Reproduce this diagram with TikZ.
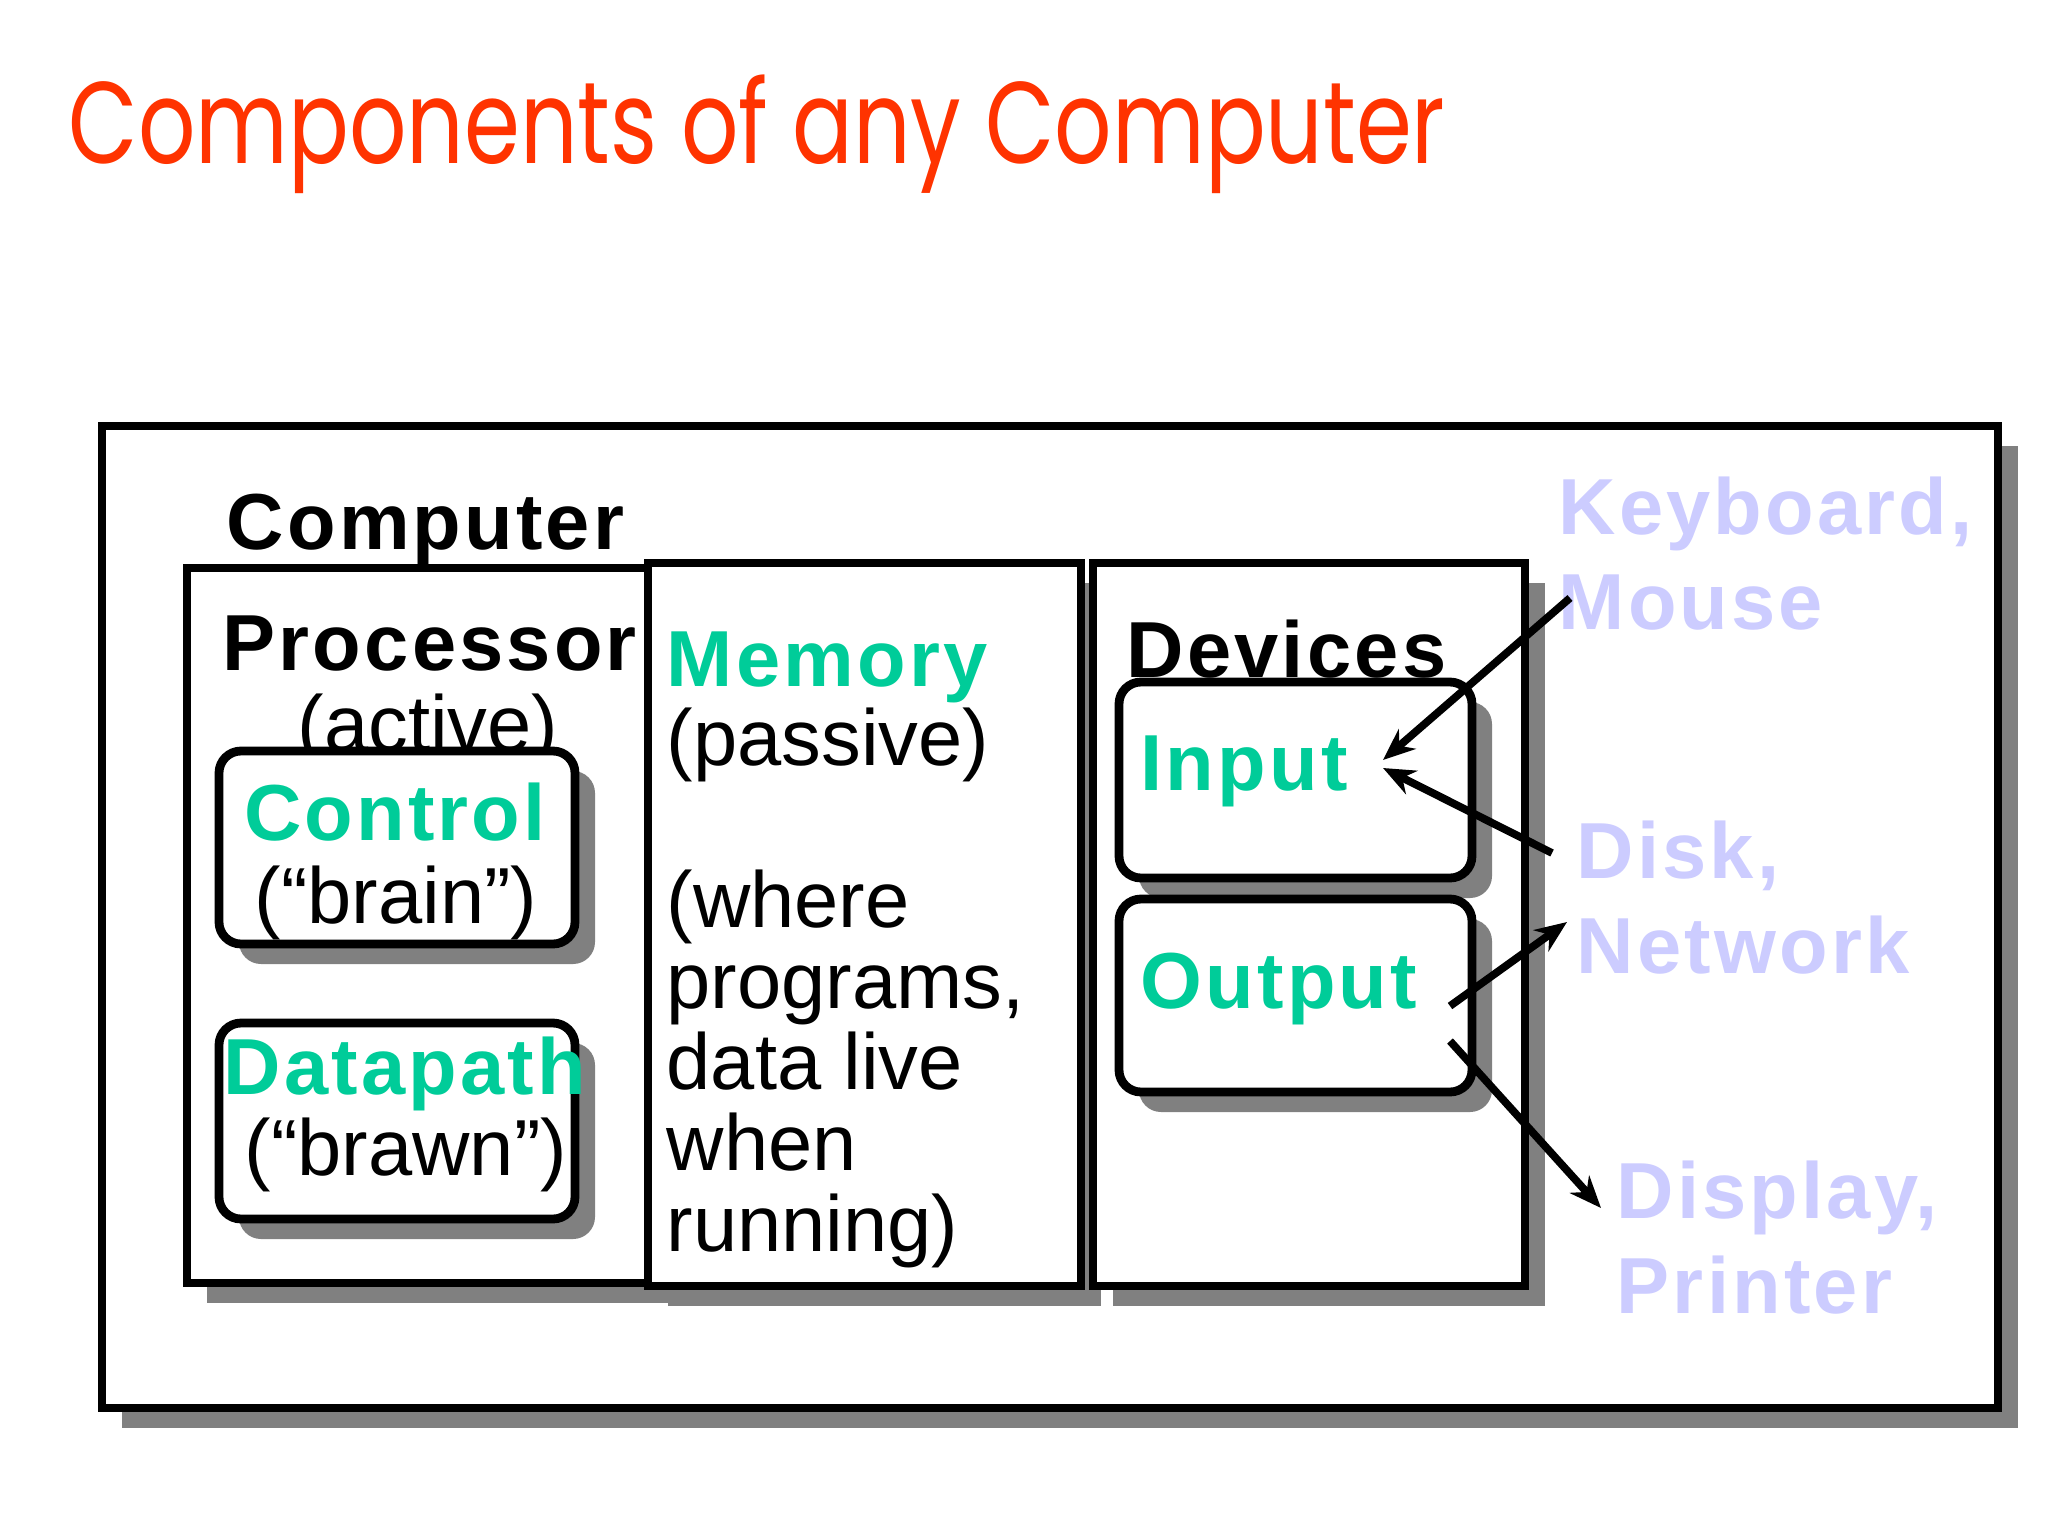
\documentclass[tikz,border=0pt]{standalone}
\usepackage{fontspec}
\usepackage{graphicx}
\setmainfont{Liberation Sans}
\newfontfamily\titlefont{Poppins}
\usetikzlibrary{arrows.meta,shadows}

\definecolor{titlered}{HTML}{FF3300}
\definecolor{unitgreen}{HTML}{00CC99}
\definecolor{devlilac}{HTML}{CCCCFF}
\definecolor{shadowgray}{HTML}{808080}

\tikzset{
  frame/.style={draw=black, line width=2.5pt, fill=white,
    drop shadow={shadow xshift=0.2cm, shadow yshift=-0.2cm, fill=shadowgray, opacity=1}},
  unitbox/.style={frame, rounded corners=0.22cm},
  head/.style={font=\fontsize{22.6}{27}\selectfont\bfseries\addfontfeature{LetterSpace=4},
    inner sep=0pt, anchor=base west, align=left},
  plain/.style={font=\fontsize{22.6}{23}\selectfont, inner sep=0pt, align=left},
  iolink/.style={line width=2.2pt, -{Stealth[length=0.32cm, width=0.26cm]}},
}

\begin{document}
\begin{tikzpicture}[x=0.01cm, y=-0.01cm]
\useasboundingbox[fill=white] (0,0) rectangle (2048,1536);

% title
\node[font=\titlefont\fontsize{33}{36}\selectfont, text=titlered, anchor=base west, inner sep=0pt]
  (title) at (68,163) {\scalebox{0.775}[1]{Components of any Computer}};

% outer frame
\draw[frame] (102,426) rectangle (1998,1408);
\node[head] (computer) at (226,549) {Computer};

% the three parts
\draw[frame] (187,568) rectangle (648,1283);
\draw[frame] (648,563) rectangle (1081,1286);
\draw[frame] (1093,563) rectangle (1525,1286);

% processor
\node[head] (processor) at (222,670) {Processor};
\node[plain, anchor=base] (active) at (428,751) {(active)};
\draw[unitbox] (219,751) rectangle (575,944);
\node[head, anchor=base, text=unitgreen] (control) at (395,840) {Control};
\node[plain, anchor=base] (brain) at (396,923) {(“brain”)};
\draw[unitbox] (219,1023) rectangle (575,1219);
\node[head, anchor=base, text=unitgreen] (datapath) at (405,1094) {Datapath};
\node[plain, anchor=base] (brawn) at (406,1175) {(“brawn”)};

% memory (base is the last line)
\node[head, text=unitgreen] (memory) at (666,686) {Memory};
\node[plain, anchor=base west] (memtext) at (666,1251)
  {(passive)\\[23pt](where\\programs,\\data live\\when\\running)};

% devices
\node[head] (devices) at (1126,677) {Devices};
\draw[unitbox] (1119,682) rectangle (1472,878);
\node[head, text=unitgreen] (input) at (1140,790) {Input};
\draw[unitbox] (1119,899) rectangle (1472,1092);
\node[head, text=unitgreen] (output) at (1140,1008) {Output};

% outside world
\node[head, text=devlilac] (keyboard) at (1558,629) {Keyboard,\\Mouse};
\node[head, text=devlilac] (disk) at (1576,973) {Disk,\\Network};
\node[head, text=devlilac] (display) at (1616,1313) {Display,\\Printer};

% arrows
\coordinate (kbtail) at (1570,598);
\coordinate (kbtip) at (1383,760);
\coordinate (disktail) at (1552,853);
\coordinate (disktip) at (1383,768);
\coordinate (nettail) at (1450,1006);
\coordinate (nettip) at (1567,922);
\coordinate (disptail) at (1450,1041);
\coordinate (disptip) at (1601,1208);
\draw[iolink] (kbtail) -- (kbtip);
\draw[iolink] (disktail) -- (disktip);
\draw[iolink] (nettail) -- (nettip);
\draw[iolink] (disptail) -- (disptip);
\end{tikzpicture}
\end{document}
